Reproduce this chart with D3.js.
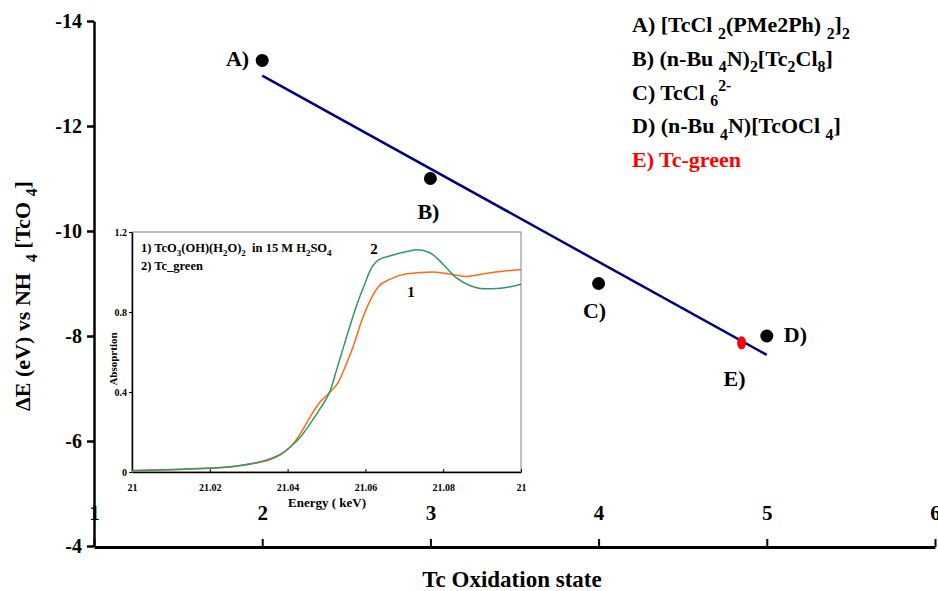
<!DOCTYPE html>
<html>
<head>
<meta charset="utf-8">
<script src="https://cdn.jsdelivr.net/npm/d3@7"></script>
<style>
  body { margin: 0; background: #fff; }
  svg text { font-family: "Liberation Serif", "Times New Roman", serif; font-weight: bold; white-space: pre; }
</style>
</head>
<body>
<svg id="chart" width="938" height="591"></svg>
<script>
// main plot data
var labels = ["A)", "B)", "C)", "D)"];
var states = [2, 3, 4, 5];
var dE = [-13.25, -11.0, -9.0, -8.0];
var greenState = 4.85, greenDE = -7.87;
var fitX = [2, 5];
var fitY = [-12.96, -7.64];
var xTicks = [1, 2, 3, 4, 5, 6];
var yTicks = [-14, -12, -10, -8, -6, -4];

// inset XANES data
var energy1 = [21.000, 21.0176, 21.026, 21.031, 21.0356, 21.038, 21.0407, 21.0433, 21.0458, 21.0484, 21.051, 21.0531, 21.0548, 21.057, 21.0591, 21.0613, 21.0634, 21.0664, 21.0707, 21.0775, 21.0827, 21.0861, 21.0913, 21.0972, 21.100];
var abs1 = [0.005, 0.017, 0.028, 0.042, 0.062, 0.084, 0.125, 0.192, 0.276, 0.351, 0.401, 0.451, 0.526, 0.635, 0.760, 0.861, 0.928, 0.964, 0.991, 1.000, 0.986, 0.978, 0.994, 1.008, 1.011];
var energy2 = [21.000, 21.0176, 21.026, 21.031, 21.0356, 21.038, 21.0407, 21.0433, 21.0458, 21.0484, 21.051, 21.0527, 21.0544, 21.0561, 21.0578, 21.0596, 21.0613, 21.0634, 21.0664, 21.0707, 21.0733, 21.0767, 21.0801, 21.0835, 21.087, 21.0904, 21.0947, 21.100];
var abs2 = [0.008, 0.017, 0.028, 0.042, 0.067, 0.087, 0.125, 0.175, 0.242, 0.318, 0.409, 0.518, 0.627, 0.735, 0.836, 0.928, 1.011, 1.061, 1.081, 1.103, 1.111, 1.095, 1.036, 0.969, 0.931, 0.916, 0.919, 0.939];
var eTicks = [21.0, 21.02, 21.04, 21.06, 21.08, 21.1];
var eTickLabels = ["21", "21.02", "21.04", "21.06", "21.08", "21"];
var aTicks = [0, 0.4, 0.8, 1.2];

var svg = d3.select("#chart");

// writes chemistry-style text: parts are [string, "n"|"sub"|"sup"]
function chem(sel, parts, size) {
  var shift = 0;
  parts.forEach(function(p) {
    var target = p[1] == "sub" ? size * 0.3 : p[1] == "sup" ? -size * 0.4 : 0;
    sel.append("tspan")
       .attr("dy", target - shift)
       .attr("font-size", p[1] == "n" ? size : size * 0.72)
       .text(p[0]);
    shift = target;
  });
  return sel;
}

var x = d3.scaleLinear().domain([1, 6]).range([94, 935]);
var y = d3.scaleLinear().domain([-14, -4]).range([21, 546]);

// y axis
var yAxis = svg.append("g")
   .attr("transform", "translate(94,0)")
   .call(d3.axisLeft(y).tickValues(yTicks).tickSize(7).tickSizeOuter(0)
     .tickFormat(function(d) { return String(d); }));
yAxis.select(".domain").attr("stroke-width", 2.5);
yAxis.selectAll(".tick line").attr("stroke-width", 2.5);
yAxis.selectAll(".tick text").attr("font-size", 20).attr("x", -12)
   .attr("font-family", "Liberation Serif").attr("fill", "#000");

// x axis, ticks inside and labels above the line
var xAxis = svg.append("g")
   .attr("transform", "translate(0,547)")
   .call(d3.axisTop(x).tickValues(xTicks).tickSize(0).tickSizeOuter(0).tickFormat(d3.format("d")));
xAxis.select(".domain").attr("stroke-width", 3);
xAxis.selectAll(".tick line").attr("y2", -8).attr("stroke-width", 2);
xAxis.selectAll(".tick text").attr("font-size", 21).attr("y", -27)
   .attr("font-family", "Liberation Serif").attr("fill", "#000");

// axis titles
svg.append("text")
   .attr("x", 512).attr("y", 587)
   .attr("text-anchor", "middle").attr("font-size", 23)
   .text("Tc Oxidation state");

chem(svg.append("text")
   .attr("transform", "translate(30,296) rotate(-90)")
   .attr("text-anchor", "middle"),
   [["\u0394E (eV) vs NH  ", "n"], ["4", "sub"], [" [TcO ", "n"], ["4", "sub"], ["]", "n"]], 22);

// fit line
svg.append("line")
   .attr("x1", x(fitX[0])).attr("y1", y(fitY[0]))
   .attr("x2", x(fitX[1])).attr("y2", y(fitY[1]))
   .attr("stroke", "#000080").attr("stroke-width", 2.5);

// points and labels
var labelPos = [[-13, 6, "end"], [-2, 40, "middle"], [-4, 34, "middle"], [17, 6, "start"]];
states.forEach(function(s, i) {
  svg.append("circle")
     .attr("cx", x(s)).attr("cy", y(dE[i])).attr("r", 6.5).attr("fill", "#000");
  svg.append("text")
     .attr("x", x(s) + labelPos[i][0]).attr("y", y(dE[i]) + labelPos[i][1])
     .attr("text-anchor", labelPos[i][2]).attr("font-size", 22)
     .text(labels[i]);
});
svg.append("ellipse")
   .attr("cx", x(greenState)).attr("cy", y(greenDE)).attr("rx", 4.5).attr("ry", 6.5)
   .attr("fill", "#ff0000");
svg.append("text")
   .attr("x", x(greenState) - 7).attr("y", y(greenDE) + 43)
   .attr("text-anchor", "middle").attr("font-size", 22).text("E)");

// legend
var legend = [
  [["A) [TcCl ", "n"], ["2", "sub"], ["(PMe2Ph) ", "n"], ["2", "sub"], ["]", "n"], ["2", "sub"]],
  [["B) (n-Bu ", "n"], ["4", "sub"], ["N)", "n"], ["2", "sub"], ["[Tc", "n"], ["2", "sub"], ["Cl", "n"], ["8", "sub"], ["]", "n"]],
  [["C) TcCl ", "n"], ["6", "sub"], ["2-", "sup"]],
  [["D) (n-Bu ", "n"], ["4", "sub"], ["N)[TcOCl ", "n"], ["4", "sub"], ["]", "n"]],
  [["E) Tc-green", "n"]]
];
legend.forEach(function(parts, i) {
  chem(svg.append("text")
     .attr("x", 632).attr("y", 32 + i * 33.8)
     .attr("fill", i == 4 ? "#ff0000" : "#000"), parts, 22);
});

// inset
var ix = d3.scaleLinear().domain([21.0, 21.1]).range([132, 521]);
var iy = d3.scaleLinear().domain([0, 1.2]).range([472, 232]);
var inset = svg.append("g");
inset.append("rect")
   .attr("x", 132).attr("y", 232).attr("width", 389).attr("height", 240)
   .attr("fill", "#fff").attr("stroke", "#808080").attr("stroke-width", 1);

var ixAxis = inset.append("g")
   .attr("transform", "translate(0,472)")
   .call(d3.axisBottom(ix).tickValues(eTicks).tickSize(-3).tickSizeOuter(0)
     .tickFormat(function(d, i) { return eTickLabels[i]; }));
ixAxis.select(".domain").attr("stroke-width", 1.5);
ixAxis.selectAll(".tick text").attr("font-size", 10).attr("y", 12)
   .attr("font-family", "Liberation Serif").attr("fill", "#000");

var iyAxis = inset.append("g")
   .attr("transform", "translate(132,0)")
   .call(d3.axisLeft(iy).tickValues(aTicks).tickSize(3).tickSizeOuter(0).tickFormat(d3.format("")));
iyAxis.select(".domain").attr("stroke-width", 1.5);
iyAxis.selectAll(".tick text").attr("font-size", 10).attr("x", -5)
   .attr("font-family", "Liberation Serif").attr("fill", "#000");

inset.append("text")
   .attr("x", 327).attr("y", 507).attr("text-anchor", "middle").attr("font-size", 13)
   .text("Energy ( keV)");
inset.append("text")
   .attr("transform", "translate(117,359) rotate(-90)")
   .attr("text-anchor", "middle").attr("font-size", 11)
   .text("Absoprtion");

var line = d3.line().curve(d3.curveMonotoneX)
   .x(function(d) { return ix(d[0]); })
   .y(function(d) { return iy(d[1]); });
inset.append("path")
   .datum(energy1.map(function(e, i) { return [e, abs1[i]]; }))
   .attr("d", line).attr("fill", "none").attr("stroke", "#ff6a13").attr("stroke-width", 1.5);
inset.append("path")
   .datum(energy2.map(function(e, i) { return [e, abs2[i]]; }))
   .attr("d", line).attr("fill", "none").attr("stroke", "#2e9966").attr("stroke-width", 1.5);

chem(inset.append("text").attr("x", 141).attr("y", 252),
   [["1) TcO", "n"], ["3", "sub"], ["(OH)(H", "n"], ["2", "sub"], ["O)", "n"], ["2", "sub"],
    ["  in 15 M H", "n"], ["2", "sub"], ["SO", "n"], ["4", "sub"]], 12.5);
inset.append("text").attr("x", 141).attr("y", 270).attr("font-size", 12.5).text("2) Tc_green");

inset.append("text").attr("x", 374).attr("y", 254).attr("text-anchor", "middle").attr("font-size", 15).text("2");
inset.append("text").attr("x", 411).attr("y", 297).attr("text-anchor", "middle").attr("font-size", 15).text("1");
</script>
</body>
</html>
